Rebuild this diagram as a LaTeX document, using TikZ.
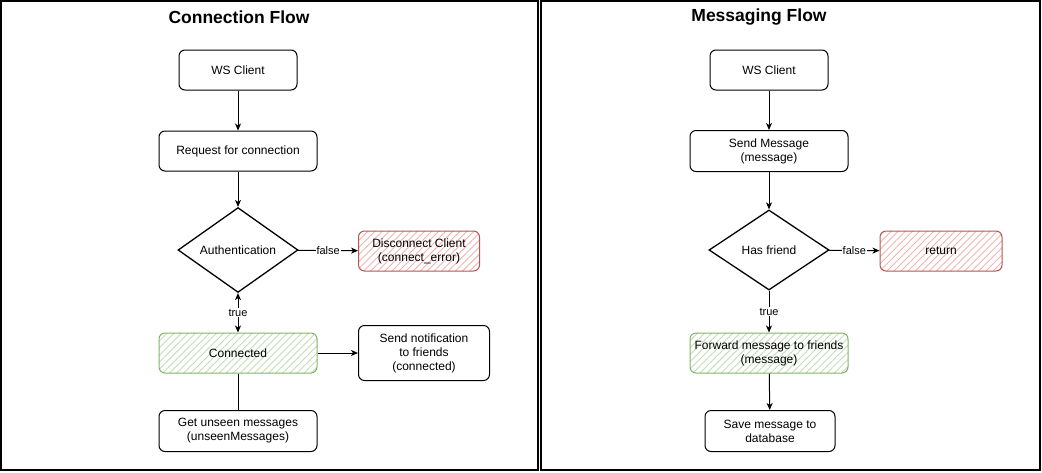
\documentclass[tikz,border=0pt]{standalone}
\usepackage{fontspec}
\setmainfont{Liberation Sans}
\usetikzlibrary{shapes.geometric,patterns.meta,arrows.meta}
\definecolor{failline}{HTML}{B85450}
\definecolor{failhatch}{HTML}{F0B4B1}
\definecolor{okline}{HTML}{82B366}
\definecolor{okhatch}{HTML}{C3DDB5}
\begin{document}
\begin{tikzpicture}[x=1pt,y=-1pt,
  box/.style={draw,rounded corners=6pt,line width=1pt,minimum width=118pt,minimum height=40pt,align=center,font=\fontsize{12}{14}\selectfont},
  fail/.style={box,draw=failline,pattern={Lines[angle=45,distance=5pt,line width=0.9pt]},pattern color=failhatch},
  ok/.style={box,draw=okline,pattern={Lines[angle=45,distance=5pt,line width=0.9pt]},pattern color=okhatch},
  check/.style={draw,diamond,line width=1.3pt,minimum width=120pt,minimum height=80pt,inner sep=0pt,font=\fontsize{12}{14}\selectfont},
  flow/.style={line width=1pt,-{Stealth[length=7pt,width=6pt,inset=2pt]}},
  lbl/.style={fill=white,inner sep=1pt,font=\fontsize{11}{13}\selectfont},
  title/.style={font=\fontsize{17.5}{20}\selectfont\bfseries}]
\useasboundingbox (0,0) rectangle (1042,472);
% frames
\draw[line width=1.3pt] (1,1) rectangle (538,470);
\draw[line width=1.3pt] (541,1) rectangle (1040,470);
\node[title] (t1) at (239,17) {Connection Flow};
\node[title] (t2) at (759,17) {Messaging Flow};
% connection flow
\node[box] (wsa) at (238,70) {WS Client};
\node[box,minimum width=158pt] (req) at (238,151) {Request for connection};
\node[check] (auth) at (238,250) {Authentication};
\node[fail,minimum width=121pt] (disc) at (419,251) {Disconnect Client\\(connect\_error)};
\node[ok,minimum width=158pt] (conn) at (238,353) {Connected};
\node[box,minimum width=131pt,minimum height=55pt] (notif) at (424,353) {Send notification\\to friends\\(connected)};
\node[box,minimum width=158pt,minimum height=41pt] (unseen) at (238,431) {Get unseen messages\\(unseenMessages)};
\draw[flow] (wsa) -- (req);
\draw[flow] (req) -- (auth);
\draw[flow] (auth) -- node[lbl]{false} (disc);
\draw[flow,{Stealth[length=7pt,width=6pt,inset=2pt]}-{Stealth[length=7pt,width=6pt,inset=2pt]}] (auth) -- node[lbl]{true} (conn);
\draw[flow] (conn) -- (notif);
\draw[line width=1pt] (conn) -- (unseen);
% messaging flow
\node[box] (wsb) at (769,70) {WS Client};
\node[box,minimum width=158pt,minimum height=41pt] (send) at (769,151) {Send Message\\(message)};
\node[check] (friend) at (769,250) {Has friend};
\node[fail,minimum width=122pt] (ret) at (941,251) {return};
\node[ok,minimum width=158pt] (fwd) at (769,353) {Forward message to friends\\(message)};
\node[box,minimum width=130pt,minimum height=41pt] (save) at (770,431) {Save message to\\database};
\draw[flow] (wsb) -- (send);
\draw[flow] (send) -- (friend);
\draw[flow] (friend) -- node[lbl]{false} (ret);
\draw[flow] (friend) -- node[lbl]{true} (fwd);
\draw[flow] (fwd) -- (save);
\end{tikzpicture}
\end{document}
